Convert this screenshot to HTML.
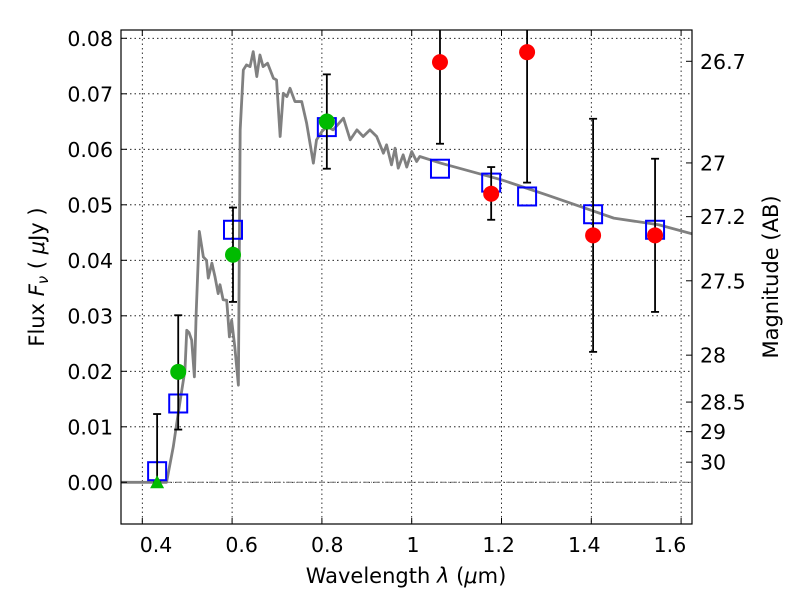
<!DOCTYPE html>
<html><head><meta charset="utf-8"><style>
body{margin:0;background:#fff}
svg{display:block;font-family:"DejaVu Sans","Liberation Sans",sans-serif}
</style></head><body>
<svg id="chart" width="800" height="600" viewBox="0 0 800 600">
<rect width="800" height="600" fill="#fff"/>
<g id="grid"></g>
<g id="plot"></g>
<rect x="121" y="30" width="571" height="494" fill="none" stroke="#000" stroke-width="1.2"/>
<g id="axes"></g>
<text x="406" y="583" font-size="21" text-anchor="middle">Wavelength  <tspan font-style="italic">λ</tspan> (<tspan font-style="italic">μ</tspan>m)</text>
<text transform="translate(44,277) rotate(-90)" font-size="21" text-anchor="middle">Flux  <tspan font-style="italic">F<tspan font-size="15" dy="4">ν</tspan></tspan><tspan dy="-4">  ( </tspan><tspan font-style="italic">μ</tspan>Jy )</text>
<text transform="translate(778,277) rotate(-90)" font-size="21" text-anchor="middle">Magnitude (AB)</text>
</svg>
<script>
const curveLam=[0.35,0.454,0.469,0.480,0.488,0.495,0.499,0.504,0.510,0.516,0.520,0.527,0.536,0.543,0.547,0.555,0.562,0.569,0.573,0.580,0.588,0.594,0.599,0.606,0.614,0.618,0.625,0.632,0.640,0.647,0.655,0.662,0.669,0.679,0.692,0.699,0.707,0.714,0.722,0.729,0.740,0.755,0.766,0.781,0.788,0.800,0.811,0.825,0.848,0.863,0.878,0.892,0.907,0.922,0.937,0.944,0.955,0.963,0.970,0.981,0.989,1.000,1.011,1.018,1.065,1.2,1.3,1.4,1.45,1.55,1.65];
const curveFlux=[0,0,0.0064,0.0124,0.0166,0.0202,0.0274,0.027,0.0256,0.019,0.0305,0.0452,0.0406,0.040,0.0368,0.0395,0.037,0.034,0.0356,0.0329,0.0328,0.0262,0.0292,0.0244,0.0175,0.0635,0.0743,0.0752,0.0749,0.0776,0.0731,0.077,0.0749,0.0755,0.0728,0.0725,0.0623,0.0701,0.0695,0.071,0.0686,0.0686,0.0647,0.0575,0.0617,0.0632,0.0641,0.0635,0.0656,0.0617,0.0635,0.0623,0.0635,0.0623,0.0593,0.0608,0.0572,0.0602,0.0566,0.059,0.0568,0.0596,0.0578,0.0587,0.0575,0.0545,0.0518,0.049,0.0476,0.0464,0.0442];
const modelLam=[0.433,0.48,0.602,0.811,1.063,1.177,1.257,1.404,1.542];
const modelFlux=[0.002,0.0142,0.0455,0.064,0.0565,0.054,0.0515,0.0483,0.0455];
const greenLam=[0.48,0.602,0.811];
const greenFlux=[0.0199,0.041,0.065];
const greenLo=[0.0095,0.0325,0.0565];
const greenHi=[0.0301,0.0495,0.0735];
const redLam=[1.063,1.177,1.257,1.404,1.542];
const redFlux=[0.0757,0.052,0.0775,0.0445,0.0445];
const redLo=[0.061,0.0473,0.054,0.0235,0.0307];
const redHi=[0.09,0.0568,0.09,0.0655,0.0583];
const limLam=[0.433];
const limFlux=[0.0];
const limHi=[0.0123];
const xTicks=[0.4,0.6,0.8,1.0,1.2,1.4,1.6];
const xTickLabels=["0.4","0.6","0.8","1","1.2","1.4","1.6"];
const yTicks=[0,0.01,0.02,0.03,0.04,0.05,0.06,0.07,0.08];
const yTickLabels=["0.00","0.01","0.02","0.03","0.04","0.05","0.06","0.07","0.08"];
const magTicks=[26.7,27,27.2,27.5,28,28.5,29,30];
const magLabels=["26.7","27","27.2","27.5","28","28.5","29","30"];

const NS="http://www.w3.org/2000/svg";
const X=v=>142.3+(v-0.4)*449;
const XL=v=>156+(v-0.4)*428.3;
const Y=f=>482.3-f*5550;
const L=121,R=692,T=30,B=524;
function mk(tag,attrs,parent){const e=document.createElementNS(NS,tag);for(const k in attrs)e.setAttribute(k,attrs[k]);parent.appendChild(e);return e;}
const grid=document.getElementById('grid'),plot=document.getElementById('plot'),axes=document.getElementById('axes');
const defs=mk('defs',{},document.getElementById('chart'));
const cp=mk('clipPath',{id:'clip'},defs);mk('rect',{x:L,y:T,width:R-L,height:B-T},cp);
plot.setAttribute('clip-path','url(#clip)');

xTicks.forEach((v,i)=>{
  const g=mk('line',{x1:X(v),x2:X(v),y1:T,y2:B,stroke:'#000','stroke-width':0.8,'stroke-dasharray':'1.5,3'},grid);
  
  const t1=mk('line',{x1:X(v),x2:X(v),y1:B,y2:B-6,stroke:'#000'},axes);
  
  const t2=mk('line',{x1:X(v),x2:X(v),y1:T,y2:T+6,stroke:'#000'},axes);
  
  const t=mk('text',{x:XL(v),y:552,'font-size':20.5,'text-anchor':'middle'},axes);t.textContent=xTickLabels[i];
  
});
yTicks.forEach((v,i)=>{
  const g=mk('line',{x1:L,x2:R,y1:Y(v),y2:Y(v),stroke:'#000','stroke-width':0.8,'stroke-dasharray':'1.5,3'},grid);
  
  const t1=mk('line',{x1:L,x2:L+6,y1:Y(v),y2:Y(v),stroke:'#000'},axes);
  
  const t=mk('text',{x:113,y:Y(v)+7.5,'font-size':20.5,'text-anchor':'end'},axes);t.textContent=yTickLabels[i];
  
});
magTicks.forEach((m,i)=>{
  const f=Math.pow(10,(23.9-m)/2.5);
  const t1=mk('line',{x1:R,x2:R-6,y1:Y(f),y2:Y(f),stroke:'#000'},axes);
  
  const t=mk('text',{x:700,y:Y(f)+7.5,'font-size':20.5},axes);t.textContent=magLabels[i];
  
});
const zl=mk('line',{x1:L,x2:R,y1:Y(0),y2:Y(0),stroke:'#777','stroke-width':1,'stroke-dasharray':'6,2,1,2'},plot);


const sed=mk('polyline',{points:curveLam.map((l,i)=>X(l)+','+Y(curveFlux[i])).join(' '),fill:'none',stroke:'#808080','stroke-width':2.8,'stroke-linejoin':'round'},plot);


function errbar(x,lo,hi){
  const g=mk('g',{stroke:'#000','stroke-width':1.8},plot);
  
  mk('line',{x1:X(x),x2:X(x),y1:Y(lo),y2:Y(hi)},g);
  mk('line',{x1:X(x)-4,x2:X(x)+4,y1:Y(lo),y2:Y(lo)},g);
  mk('line',{x1:X(x)-4,x2:X(x)+4,y1:Y(hi),y2:Y(hi)},g);
}
modelLam.forEach((l,i)=>{
  const r=mk('rect',{x:X(l)-9,y:Y(modelFlux[i])-9,width:18,height:18,fill:'none',stroke:'#0000ff','stroke-width':2},plot);
  
});
limLam.forEach((l,i)=>{
  errbar(l,limFlux[i],limHi[i]);
  const p=mk('polygon',{points:`${X(l)},${Y(limFlux[i])-7} ${X(l)-7},${Y(limFlux[i])+6} ${X(l)+7},${Y(limFlux[i])+6}`,fill:'#00bb00'},plot);
  
});
greenLam.forEach((l,i)=>{
  errbar(l,greenLo[i],greenHi[i]);
  const c=mk('circle',{cx:X(l),cy:Y(greenFlux[i]),r:8,fill:'#00bb00'},plot);
  
});
redLam.forEach((l,i)=>{
  errbar(l,redLo[i],redHi[i]);
  const c=mk('circle',{cx:X(l),cy:Y(redFlux[i]),r:8,fill:'#ff0000'},plot);
  
});
</script>
</body></html>
